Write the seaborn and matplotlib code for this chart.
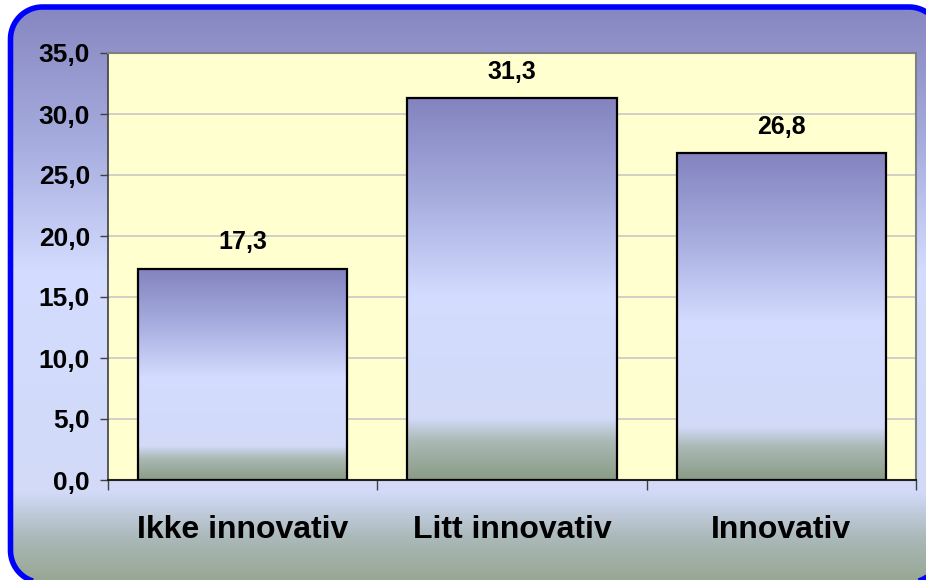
import numpy as np
import pandas as pd
import matplotlib
matplotlib.use("Agg")
import matplotlib.pyplot as plt
import seaborn as sns
from matplotlib.colors import LinearSegmentedColormap
from matplotlib.patches import Polygon

categories = ["Ikke innovativ", "Litt innovativ", "Innovativ"]
values = [17.3, 31.3, 26.8]
yticks = [0, 5, 10, 15, 20, 25, 30, 35]

sns.set_theme(style="white")
plt.rcParams['font.family'] = ['Liberation Sans', 'DejaVu Sans']
plt.rcParams['font.weight'] = 'bold'

W, H = 926, 580
fig = plt.figure(figsize=(W / 100, H / 100), dpi=100)
fig.patch.set_facecolor("white")


def rounded_rect(x0, y0, x1, y1, r, n=24):
    pts = []
    for cx, cy, a0 in [(x1 - r, y1 - r, 0), (x0 + r, y1 - r, 90),
                       (x0 + r, y0 + r, 180), (x1 - r, y0 + r, 270)]:
        ang = np.radians(np.linspace(a0, a0 + 90, n))
        pts += list(zip(cx + r * np.cos(ang), cy + r * np.sin(ang)))
    return np.array(pts)


# background with rounded blue border (pixel coordinates, y up)
bg_cmap = LinearSegmentedColormap.from_list(
    "bg", [(0.0, "#8585bf"), (0.25, "#a7addf"), (0.47, "#d4dcff"),
           (0.85, "#d2daf8"), (0.93, "#aab8b8"), (1.0, "#98a894")])
ax_bg = fig.add_axes([0, 0, 1, 1], zorder=-1)
ax_bg.axis("off")
box = Polygon(rounded_rect(10.5, -2.5, 941, H - 7, 32), closed=True,
              facecolor="none", edgecolor="#0000ff", linewidth=4, zorder=3,
              joinstyle="round")
ax_bg.add_patch(box)
grad = np.linspace(0, 1, 512).reshape(-1, 1)
im = ax_bg.imshow(grad, cmap=bg_cmap, extent=[0, W, 0, H], aspect="auto",
                  origin="upper", zorder=1)
im.set_clip_path(box)
ax_bg.set_xlim(0, W)
ax_bg.set_ylim(0, H)

# main axes
ax = fig.add_axes([108 / W, 1 - 480 / H, (916 - 108) / W, (480 - 53) / H])
ax.set_facecolor("#ffffcf")
df = pd.DataFrame({"cat": categories, "val": values})
sns.barplot(data=df, x="cat", y="val", ax=ax, width=0.776, color="#a0a0d0",
            saturation=1, zorder=3)

bar_cmap = LinearSegmentedColormap.from_list(
    "bar", [(0.0, "#8383bf"), (0.25, "#a5abdd"), (0.52, "#d4dcff"),
            (0.84, "#d2daf8"), (0.90, "#aab9b4"), (1.0, "#8a9c86")])
for p in ax.patches:
    x0, y0 = p.get_x(), p.get_y()
    w, h = p.get_width(), p.get_height()
    p.set_facecolor("none")
    p.set_edgecolor("black")
    p.set_linewidth(1.6)
    p.set_zorder(4)
    bim = ax.imshow(grad, cmap=bar_cmap, extent=[x0, x0 + w, y0, y0 + h],
                    aspect="auto", zorder=3, origin="upper")
    bim.set_clip_path(p)

ax.set_xlim(-0.5, 2.5)
ax.set_ylim(0, 35)
ax.set_yticks(yticks)
ax.set_yticklabels([f"{v:.1f}".replace(".", ",") for v in yticks],
                   fontsize=19, fontweight="bold", color="black")
ax.yaxis.grid(True, color="#c8c8c8", linewidth=1.2, zorder=0)
ax.set_axisbelow(True)
ax.tick_params(axis="y", length=6, width=1, color="#404040", pad=7, left=True)
ax.set_xticks(range(len(categories)))
ax.set_xticklabels(categories, fontsize=23, fontweight="bold", color="black")
ax.tick_params(axis="x", which="major", length=0, pad=25)
ax.set_xticks([-0.5, 0.5, 1.5, 2.5], minor=True)
ax.tick_params(axis="x", which="minor", length=7, width=1, color="#404040",
               direction="out", bottom=True)
ax.set_xlabel("")
ax.set_ylabel("")

for sp in ["top", "right"]:
    ax.spines[sp].set_color("#808080")
    ax.spines[sp].set_linewidth(1.5)
ax.spines["left"].set_color("#404040")
ax.spines["left"].set_linewidth(1.2)
ax.spines["bottom"].set_color("#202020")
ax.spines["bottom"].set_linewidth(1.5)

for i, v in enumerate(values):
    ax.annotate(f"{v:.1f}".replace(".", ","), xy=(i, v), xytext=(0, 14),
                textcoords="offset points", ha="center", va="baseline",
                fontsize=18, fontweight="bold", color="black")

fig.savefig("out.png", dpi=100)
